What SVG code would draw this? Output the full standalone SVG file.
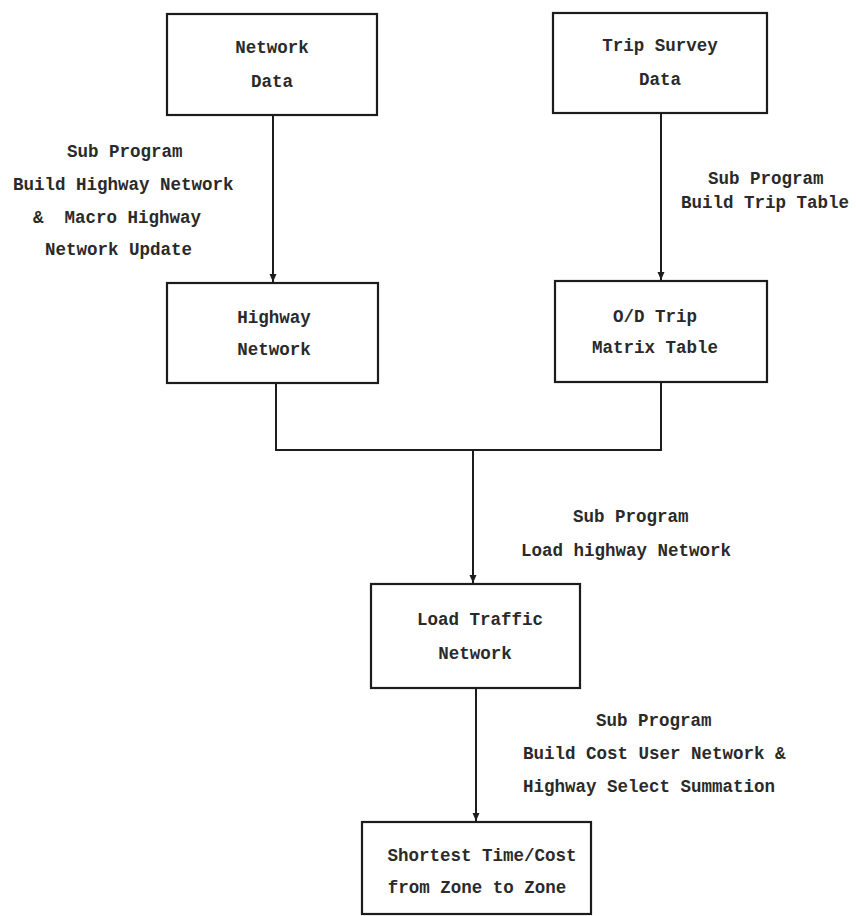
<svg xmlns="http://www.w3.org/2000/svg" width="856" height="916" viewBox="0 0 856 916">
<defs>
<style>
.box{fill:#fff;stroke:#1c1c1c;stroke-width:2.2}
.t{font-family:"Liberation Mono","DejaVu Sans Mono",monospace;font-size:17.5px;font-weight:bold;fill:#2a2a2a}
.c{text-anchor:middle}
.ln{fill:none;stroke:#1c1c1c;stroke-width:2}
</style>
<marker id="ah" markerUnits="userSpaceOnUse" markerWidth="8" markerHeight="10" viewBox="0 0 8 10" refX="8" refY="5" orient="auto">
<path d="M0,1.5 L8,5 L0,8.5 Z" fill="#1c1c1c"/>
</marker>
</defs>
<rect width="856" height="916" fill="#fff"/>
<g id="connectors">
<path class="ln" d="M273,115 V282" marker-end="url(#ah)"/>
<path class="ln" d="M661,113 V280" marker-end="url(#ah)"/>
<path class="ln" d="M276,383 V450 H661 V382"/>
<path class="ln" d="M473,450 V583" marker-end="url(#ah)"/>
<path class="ln" d="M476,688 V821" marker-end="url(#ah)"/>
</g>
<g id="labels">
<text class="t" x="67" y="157">Sub Program</text>
<text class="t" x="13" y="190">Build Highway Network</text>
<text class="t" x="33" y="223" xml:space="preserve">&amp;  Macro Highway</text>
<text class="t" x="45" y="255">Network Update</text>
<text class="t" x="708" y="184">Sub Program</text>
<text class="t" x="681" y="208">Build Trip Table</text>
<text class="t" x="573" y="522">Sub Program</text>
<text class="t" x="521" y="556">Load highway Network</text>
<text class="t" x="596" y="726">Sub Program</text>
<text class="t" x="523" y="759">Build Cost User Network &amp;</text>
<text class="t" x="523" y="792">Highway Select Summation</text>
</g>
<g id="network-data">
<rect class="box" x="167" y="14" width="210" height="101"/>
<text class="t c" x="272" y="53">Network</text>
<text class="t c" x="272" y="87">Data</text>
</g>
<g id="trip-survey-data">
<rect class="box" x="553" y="13" width="214" height="100"/>
<text class="t c" x="660" y="51">Trip Survey</text>
<text class="t c" x="660" y="85">Data</text>
</g>
<g id="highway-network">
<rect class="box" x="167" y="283" width="211" height="100"/>
<text class="t c" x="274" y="323">Highway</text>
<text class="t c" x="274" y="355">Network</text>
</g>
<g id="od-trip-matrix">
<rect class="box" x="555" y="281" width="212" height="101"/>
<text class="t c" x="655" y="322">O/D Trip</text>
<text class="t c" x="655" y="353">Matrix Table</text>
</g>
<g id="load-traffic-network">
<rect class="box" x="371" y="584" width="209" height="104"/>
<text class="t c" x="480" y="625">Load Traffic</text>
<text class="t c" x="475" y="659">Network</text>
</g>
<g id="shortest-time-cost">
<rect class="box" x="362" y="822" width="229" height="92"/>
<text class="t c" x="482" y="861">Shortest Time/Cost</text>
<text class="t c" x="477" y="893">from Zone to Zone</text>
</g>
</svg>
